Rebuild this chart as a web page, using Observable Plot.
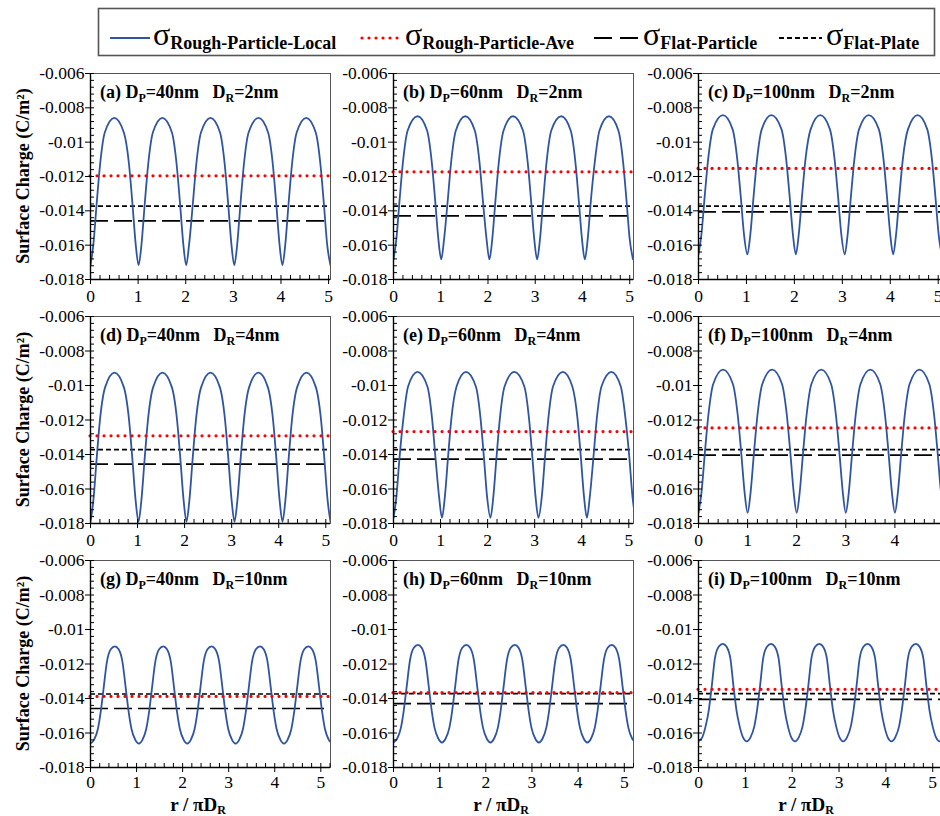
<!DOCTYPE html>
<html>
<head>
<meta charset="utf-8">
<script src="https://cdn.jsdelivr.net/npm/d3@7"></script>
<script src="https://cdn.jsdelivr.net/npm/@observablehq/plot@0.6"></script>
<style>
  html, body { margin: 0; padding: 0; background: #fff; }
  #wrap { position: relative; width: 940px; height: 816px; overflow: hidden; background: #fff; }
  .panel { position: absolute; }
  .panel svg text { font-family: "Liberation Serif", "Times New Roman", serif !important; }
</style>
</head>
<body>
<div id="wrap"></div>
<script>
// ---------------- DATA ----------------
const yDomain = [-0.018, -0.006];
const yTicks = [-0.018, -0.016, -0.014, -0.012, -0.01, -0.008, -0.006];
const yTickLabels = ["-0.018", "-0.016", "-0.014", "-0.012", "-0.01", "-0.008", "-0.006"];
const xTicks = [0, 1, 2, 3, 4, 5];
const xTickLabels = ["0", "1", "2", "3", "4", "5"];
const xMax = [5.04, 5.08, 5.11, 5.1, 5.1, 4.99, 5.21, 5.2, 5.23];

const panelTags = ["(a)", "(b)", "(c)", "(d)", "(e)", "(f)", "(g)", "(h)", "(i)"];
const dpValues = ["40", "60", "100", "40", "60", "100", "40", "60", "100"];
const drValues = ["2", "2", "2", "4", "4", "4", "10", "10", "10"];

const legendNames = ["Rough-Particle-Local", "Rough-Particle-Ave", "Flat-Particle", "Flat-Plate"];

// horizontal reference levels (C/m^2)
const aveCharge    = [-0.01196, -0.01173, -0.01153, -0.01292, -0.01267, -0.01246, -0.01388, -0.01366, -0.01347];
const flatParticle = [-0.01458, -0.01429, -0.01406, -0.01456, -0.01427, -0.01404, -0.01458, -0.0143, -0.01405];
const flatPlate    = [-0.01372, -0.01372, -0.01372, -0.01372, -0.01372, -0.01372, -0.01374, -0.01372, -0.01372];

// local surface charge curves [r/piDR, sigma]
const curveA = [
[0,-0.01717],[0.06,-0.01597],[0.13,-0.01356],[0.20,-0.01133],[0.30,-0.00944],[0.50,-0.00858],[0.70,-0.00944],[0.81,-0.01133],[0.88,-0.01356],[0.95,-0.01597],
[1.01,-0.01717],[1.07,-0.01597],[1.14,-0.01356],[1.21,-0.01133],[1.31,-0.00944],[1.51,-0.00858],[1.71,-0.00944],[1.81,-0.01133],[1.88,-0.01356],[1.95,-0.01597],
[2.01,-0.01717],[2.07,-0.01597],[2.15,-0.01356],[2.22,-0.01133],[2.32,-0.00944],[2.52,-0.00858],[2.72,-0.00944],[2.82,-0.01133],[2.89,-0.01356],[2.96,-0.01597],
[3.02,-0.01717],[3.08,-0.01597],[3.15,-0.01356],[3.22,-0.01133],[3.32,-0.00944],[3.53,-0.00858],[3.73,-0.00944],[3.83,-0.01133],[3.90,-0.01356],[3.97,-0.01597],
[4.03,-0.01717],[4.09,-0.01597],[4.16,-0.01356],[4.23,-0.01133],[4.33,-0.00944],[4.53,-0.00858],[4.73,-0.00944],[4.83,-0.01133],[4.90,-0.01356],[4.97,-0.01597],
[5.04,-0.01717]];
const curveB = [
[0,-0.01683],[0.06,-0.01566],[0.13,-0.01333],[0.20,-0.01116],[0.30,-0.00932],[0.51,-0.00849],[0.71,-0.00932],[0.81,-0.01116],[0.88,-0.01333],[0.95,-0.01566],
[1.01,-0.01683],[1.07,-0.01566],[1.15,-0.01333],[1.22,-0.01116],[1.32,-0.00932],[1.52,-0.00849],[1.72,-0.00932],[1.82,-0.01116],[1.89,-0.01333],[1.97,-0.01566],
[2.03,-0.01683],[2.09,-0.01566],[2.16,-0.01333],[2.23,-0.01116],[2.33,-0.00932],[2.53,-0.00849],[2.74,-0.00932],[2.84,-0.01116],[2.91,-0.01333],[2.98,-0.01566],
[3.04,-0.01683],[3.10,-0.01566],[3.17,-0.01333],[3.24,-0.01116],[3.34,-0.00932],[3.55,-0.00849],[3.75,-0.00932],[3.85,-0.01116],[3.92,-0.01333],[3.99,-0.01566],
[4.05,-0.01683],[4.11,-0.01566],[4.18,-0.01333],[4.26,-0.01116],[4.36,-0.00932],[4.56,-0.00849],[4.76,-0.00932],[4.86,-0.01116],[4.93,-0.01333],[5.00,-0.01566],
[5.07,-0.01683]];
const curveC = [
[0,-0.01654],[0.06,-0.0154],[0.13,-0.01313],[0.20,-0.01103],[0.30,-0.00924],[0.51,-0.00843],[0.71,-0.00924],[0.81,-0.01103],[0.88,-0.01313],[0.95,-0.0154],
[1.02,-0.01654],[1.08,-0.0154],[1.15,-0.01313],[1.22,-0.01103],[1.32,-0.00924],[1.52,-0.00843],[1.73,-0.00924],[1.83,-0.01103],[1.90,-0.01313],[1.97,-0.0154],
[2.03,-0.01654],[2.09,-0.0154],[2.16,-0.01313],[2.23,-0.01103],[2.34,-0.00924],[2.54,-0.00843],[2.74,-0.00924],[2.84,-0.01103],[2.91,-0.01313],[2.98,-0.0154],
[3.05,-0.01654],[3.11,-0.0154],[3.18,-0.01313],[3.25,-0.01103],[3.35,-0.00924],[3.55,-0.00843],[3.76,-0.00924],[3.86,-0.01103],[3.93,-0.01313],[4.00,-0.0154],
[4.06,-0.01654],[4.12,-0.0154],[4.19,-0.01313],[4.26,-0.01103],[4.37,-0.00924],[4.57,-0.00843],[4.77,-0.00924],[4.87,-0.01103],[4.94,-0.01313],[5.01,-0.0154],
[5.08,-0.01654],[5.14,-0.0154]];
const curveD = [
[0,-0.0179],[0.06,-0.01669],[0.13,-0.01427],[0.20,-0.01202],[0.31,-0.01011],[0.51,-0.00925],[0.71,-0.01011],[0.82,-0.01202],[0.89,-0.01427],[0.96,-0.01669],
[1.02,-0.0179],[1.08,-0.01669],[1.15,-0.01427],[1.22,-0.01202],[1.33,-0.01011],[1.53,-0.00925],[1.73,-0.01011],[1.84,-0.01202],[1.91,-0.01427],[1.98,-0.01669],
[2.04,-0.0179],[2.10,-0.01669],[2.17,-0.01427],[2.24,-0.01202],[2.35,-0.01011],[2.55,-0.00925],[2.75,-0.01011],[2.86,-0.01202],[2.93,-0.01427],[3.00,-0.01669],
[3.06,-0.0179],[3.12,-0.01669],[3.19,-0.01427],[3.26,-0.01202],[3.37,-0.01011],[3.57,-0.00925],[3.77,-0.01011],[3.88,-0.01202],[3.95,-0.01427],[4.02,-0.01669],
[4.08,-0.0179],[4.14,-0.01669],[4.21,-0.01427],[4.28,-0.01202],[4.39,-0.01011],[4.59,-0.00925],[4.79,-0.01011],[4.90,-0.01202],[4.97,-0.01427],[5.04,-0.01669],
[5.10,-0.0179]];
const curveE = [
[0,-0.01767],[0.06,-0.01649],[0.13,-0.01412],[0.21,-0.01192],[0.31,-0.01006],[0.51,-0.00921],[0.72,-0.01006],[0.82,-0.01192],[0.89,-0.01412],[0.97,-0.01649],
[1.03,-0.01767],[1.09,-0.01649],[1.16,-0.01412],[1.23,-0.01192],[1.34,-0.01006],[1.54,-0.00921],[1.75,-0.01006],[1.85,-0.01192],[1.92,-0.01412],[1.99,-0.01649],
[2.06,-0.01767],[2.12,-0.01649],[2.19,-0.01412],[2.26,-0.01192],[2.36,-0.01006],[2.57,-0.00921],[2.78,-0.01006],[2.88,-0.01192],[2.95,-0.01412],[3.02,-0.01649],
[3.08,-0.01767],[3.15,-0.01649],[3.22,-0.01412],[3.29,-0.01192],[3.39,-0.01006],[3.60,-0.00921],[3.80,-0.01006],[3.91,-0.01192],[3.98,-0.01412],[4.05,-0.01649],
[4.11,-0.01767],[4.17,-0.01649],[4.25,-0.01412],[4.32,-0.01192],[4.42,-0.01006],[4.63,-0.00921],[4.83,-0.01006],[4.93,-0.01192],[5.01,-0.01412],[5.08,-0.01649],
[5.14,-0.01767]];
const curveF = [
[0,-0.01738],[0.06,-0.01622],[0.13,-0.01389],[0.20,-0.01174],[0.30,-0.00991],[0.50,-0.00908],[0.70,-0.00991],[0.80,-0.01174],[0.87,-0.01389],[0.94,-0.01622],
[1.00,-0.01738],[1.06,-0.01622],[1.13,-0.01389],[1.20,-0.01174],[1.30,-0.00991],[1.50,-0.00908],[1.70,-0.00991],[1.80,-0.01174],[1.87,-0.01389],[1.94,-0.01622],
[2.00,-0.01738],[2.06,-0.01622],[2.13,-0.01389],[2.20,-0.01174],[2.30,-0.00991],[2.50,-0.00908],[2.70,-0.00991],[2.80,-0.01174],[2.87,-0.01389],[2.94,-0.01622],
[3.00,-0.01738],[3.06,-0.01622],[3.13,-0.01389],[3.20,-0.01174],[3.30,-0.00991],[3.50,-0.00908],[3.70,-0.00991],[3.80,-0.01174],[3.87,-0.01389],[3.94,-0.01622],
[4.00,-0.01738],[4.06,-0.01622],[4.13,-0.01389],[4.20,-0.01174],[4.30,-0.00991],[4.50,-0.00908],[4.70,-0.00991],[4.80,-0.01174],[4.87,-0.01389],[4.94,-0.01622],
[5.00,-0.01738]];
const curveG = [
[0,-0.01661],[0.08,-0.01638],[0.16,-0.01577],[0.22,-0.01481],[0.28,-0.01351],[0.36,-0.01182],[0.44,-0.01115],[0.53,-0.01098],[0.61,-0.01115],[0.69,-0.01182],[0.77,-0.01351],[0.83,-0.01481],[0.89,-0.01577],[0.97,-0.01638],
[1.05,-0.01661],[1.13,-0.01638],[1.21,-0.01577],[1.27,-0.01481],[1.33,-0.01351],[1.41,-0.01182],[1.49,-0.01115],[1.58,-0.01098],[1.66,-0.01115],[1.74,-0.01182],[1.82,-0.01351],[1.88,-0.01481],[1.94,-0.01577],[2.02,-0.01638],
[2.10,-0.01661],[2.18,-0.01638],[2.26,-0.01577],[2.32,-0.01481],[2.38,-0.01351],[2.46,-0.01182],[2.54,-0.01115],[2.63,-0.01098],[2.71,-0.01115],[2.79,-0.01182],[2.87,-0.01351],[2.93,-0.01481],[2.99,-0.01577],[3.07,-0.01638],
[3.15,-0.01661],[3.23,-0.01638],[3.31,-0.01577],[3.37,-0.01481],[3.43,-0.01351],[3.51,-0.01182],[3.59,-0.01115],[3.68,-0.01098],[3.76,-0.01115],[3.84,-0.01182],[3.92,-0.01351],[3.98,-0.01481],[4.04,-0.01577],[4.12,-0.01638],
[4.20,-0.01661],[4.28,-0.01638],[4.36,-0.01577],[4.42,-0.01481],[4.48,-0.01351],[4.56,-0.01182],[4.64,-0.01115],[4.73,-0.01098],[4.81,-0.01115],[4.89,-0.01182],[4.97,-0.01351],[5.03,-0.01481],[5.09,-0.01577],[5.17,-0.01638],
[5.25,-0.01661]];
const curveH = [
[0,-0.01655],[0.08,-0.01632],[0.16,-0.0157],[0.22,-0.01474],[0.28,-0.01344],[0.36,-0.01174],[0.44,-0.01106],[0.53,-0.01089],[0.61,-0.01106],[0.69,-0.01174],[0.77,-0.01344],[0.83,-0.01474],[0.89,-0.0157],[0.97,-0.01632],
[1.05,-0.01655],[1.13,-0.01632],[1.21,-0.0157],[1.27,-0.01474],[1.33,-0.01344],[1.41,-0.01174],[1.49,-0.01106],[1.58,-0.01089],[1.66,-0.01106],[1.74,-0.01174],[1.82,-0.01344],[1.88,-0.01474],[1.94,-0.0157],[2.02,-0.01632],
[2.10,-0.01655],[2.18,-0.01632],[2.26,-0.0157],[2.32,-0.01474],[2.38,-0.01344],[2.46,-0.01174],[2.54,-0.01106],[2.63,-0.01089],[2.71,-0.01106],[2.79,-0.01174],[2.87,-0.01344],[2.93,-0.01474],[2.99,-0.0157],[3.07,-0.01632],
[3.15,-0.01655],[3.23,-0.01632],[3.31,-0.0157],[3.37,-0.01474],[3.43,-0.01344],[3.51,-0.01174],[3.59,-0.01106],[3.68,-0.01089],[3.76,-0.01106],[3.84,-0.01174],[3.92,-0.01344],[3.98,-0.01474],[4.04,-0.0157],[4.12,-0.01632],
[4.20,-0.01655],[4.28,-0.01632],[4.36,-0.0157],[4.42,-0.01474],[4.48,-0.01344],[4.56,-0.01174],[4.64,-0.01106],[4.73,-0.01089],[4.81,-0.01106],[4.89,-0.01174],[4.97,-0.01344],[5.03,-0.01474],[5.09,-0.0157],[5.17,-0.01632],
[5.25,-0.01655]];
const curveI = [
[0,-0.01648],[0.08,-0.01625],[0.15,-0.01563],[0.22,-0.01467],[0.28,-0.01337],[0.35,-0.01168],[0.43,-0.011],[0.52,-0.01083],[0.60,-0.011],[0.68,-0.01168],[0.75,-0.01337],[0.81,-0.01467],[0.88,-0.01563],[0.95,-0.01625],
[1.03,-0.01648],[1.11,-0.01625],[1.19,-0.01563],[1.25,-0.01467],[1.31,-0.01337],[1.38,-0.01168],[1.46,-0.011],[1.55,-0.01083],[1.63,-0.011],[1.71,-0.01168],[1.78,-0.01337],[1.84,-0.01467],[1.91,-0.01563],[1.98,-0.01625],
[2.06,-0.01648],[2.14,-0.01625],[2.22,-0.01563],[2.28,-0.01467],[2.34,-0.01337],[2.41,-0.01168],[2.49,-0.011],[2.58,-0.01083],[2.66,-0.011],[2.74,-0.01168],[2.81,-0.01337],[2.87,-0.01467],[2.94,-0.01563],[3.01,-0.01625],
[3.09,-0.01648],[3.17,-0.01625],[3.25,-0.01563],[3.31,-0.01467],[3.37,-0.01337],[3.44,-0.01168],[3.52,-0.011],[3.61,-0.01083],[3.69,-0.011],[3.77,-0.01168],[3.84,-0.01337],[3.90,-0.01467],[3.97,-0.01563],[4.04,-0.01625],
[4.12,-0.01648],[4.20,-0.01625],[4.28,-0.01563],[4.34,-0.01467],[4.40,-0.01337],[4.47,-0.01168],[4.55,-0.011],[4.64,-0.01083],[4.72,-0.011],[4.80,-0.01168],[4.87,-0.01337],[4.93,-0.01467],[5.00,-0.01563],[5.07,-0.01625],
[5.15,-0.01648],[5.23,-0.01625]];
const curves = [curveA, curveB, curveC, curveD, curveE, curveF, curveG, curveH, curveI];

// ---------------- LAYOUT / STYLE ----------------
const FONT = '"Liberation Serif", "Times New Roman", serif';
const BLUE = "#2f55a2";
const RED = "#ff0000";
const colLeft = [0, 333, 638], colML = [90, 60, 60], colW = [240, 240, 245];
const rowTop = [73, 316, 560], rowH = [206, 207, 207];
const yMinor = d3.range(0, 31).map(k => yDomain[0] + k * 0.0004);
const xMinorAll = d3.range(0, 27).map(k => k * 0.2);

const wrap = document.getElementById("wrap");

for (let i = 0; i < 9; i++) {
  const r = Math.floor(i / 3), c = i % 3;
  const mt = 6, mr = 3;
  const mb = r === 2 ? 816 - (rowTop[r] + rowH[r]) : 36;
  const width = colML[c] + colW[c] + mr;
  const height = mt + rowH[r] + mb;
  const xmax = xMax[i];
  const xt = xTicks.filter(v => v <= xmax + 1e-9);
  const xMinor = xMinorAll.filter(v => v <= xmax + 1e-9);

  const chart = Plot.plot({
    width, height,
    marginLeft: colML[c], marginRight: mr, marginTop: mt, marginBottom: mb,
    x: {domain: [0, xmax]},
    y: {domain: yDomain},
    style: `background: transparent; max-width: none; overflow: visible; font-family: ${FONT}; font-size: 17px; color: #000;`,
    marks: [
      Plot.frame({stroke: "#555", strokeWidth: 1}),
      Plot.ruleY([flatPlate[i]], {stroke: "#000", strokeWidth: 1.7, strokeDasharray: "5 3"}),
      Plot.ruleY([flatParticle[i]], {stroke: "#000", strokeWidth: 1.7, strokeDasharray: "18 6"}),
      Plot.line(curves[i], {x: d => d[0], y: d => d[1], stroke: BLUE, strokeWidth: 1.8, curve: "monotone-x", clip: true}),
      Plot.ruleY([aveCharge[i]], {stroke: RED, strokeWidth: 3.2, strokeDasharray: "0 7", strokeLinecap: "round"}),
      Plot.axisY(yMinor, {tickSize: -4, tickFormat: () => "", label: null, stroke: "#000"}),
      Plot.axisX(xMinor, {tickSize: -4, tickFormat: () => "", label: null, stroke: "#000"}),
      Plot.axisY(yTicks, {tickSize: 5, tickPadding: 1, tickFormat: d => yTickLabels[yTicks.indexOf(d)], label: null, fontSize: 17.5, stroke: "#000"}),
      Plot.axisX(xt, {tickSize: 5, tickPadding: r === 2 ? 3 : 5, tickFormat: d => xTickLabels[xTicks.indexOf(d)], label: null, fontSize: 17.5, stroke: "#000"}),
      Plot.ruleX([0], {stroke: "#000", strokeWidth: 1.4}),
      Plot.ruleY([yDomain[0]], {stroke: "#000", strokeWidth: 1.4})
    ]
  });

  const svg = d3.select(chart);
  svg.selectAll("text").style("font-family", FONT);
  // panel annotation
  const t = svg.append("text")
    .attr("x", colML[c] + 10).attr("y", mt + 25)
    .attr("text-anchor", "start")
    .attr("font-weight", "bold").attr("font-size", 18)
    .attr("fill", "#000").style("font-family", FONT).style("white-space", "pre");
  t.append("tspan").text(panelTags[i] + " D");
  t.append("tspan").attr("font-size", 12).attr("dy", 4).text("P");
  t.append("tspan").attr("dy", -4).text("=" + dpValues[i] + "nm   D");
  t.append("tspan").attr("font-size", 12).attr("dy", 4).text("R");
  t.append("tspan").attr("dy", -4).text("=" + drValues[i] + "nm");

  // y-axis title (first column)
  if (c === 0) {
    svg.append("text")
      .attr("transform", `translate(29,${mt + rowH[r] / 2}) rotate(-90)`)
      .attr("text-anchor", "middle")
      .attr("font-weight", "bold").attr("font-size", 18)
      .attr("fill", "#000").style("font-family", FONT)
      .text("Surface Charge (C/m²)");
  }
  // x-axis title (last row)
  if (r === 2) {
    const tx = svg.append("text")
      .attr("x", colML[c] + 120 - 12).attr("y", mt + rowH[r] + 43.5)
      .attr("text-anchor", "middle")
      .attr("font-weight", "bold").attr("font-size", 19)
      .attr("fill", "#000").style("font-family", FONT).style("white-space", "pre");
    tx.append("tspan").text("r / πD");
    tx.append("tspan").attr("font-size", 12).attr("dy", 3).text("R");
  }

  const div = document.createElement("div");
  div.className = "panel";
  div.style.left = colLeft[c] + "px";
  div.style.top = (rowTop[r] - mt) + "px";
  div.style.width = width + "px";
  div.style.height = height + "px";
  div.appendChild(chart);
  wrap.appendChild(div);
}

// ---------------- LEGEND ----------------
const legendStyles = [
  {stroke: BLUE, w: 2, dash: null, cap: "butt"},
  {stroke: RED, w: 3.2, dash: "0 7", cap: "round"},
  {stroke: "#000", w: 2, dash: "18 8", cap: "butt"},
  {stroke: "#000", w: 1.8, dash: "5 3", cap: "butt"}
];
const legX = [110, 362, 594, 779], legLen = [40, 38, 46, 43], sigX = [153, 405, 643, 826];
const lsvg = d3.create("svg").attr("width", 940).attr("height", 62)
  .style("position", "absolute").style("left", "0px").style("top", "0px");
lsvg.append("rect").attr("x", 98.5).attr("y", 8.5).attr("width", 836).attr("height", 47)
  .attr("fill", "#fff").attr("stroke", "#555").attr("stroke-width", 1.6);
legendNames.forEach((name, k) => {
  const s = legendStyles[k];
  lsvg.append("line").attr("x1", legX[k]).attr("x2", legX[k] + legLen[k]).attr("y1", 38).attr("y2", 38)
    .attr("stroke", s.stroke).attr("stroke-width", s.w).attr("stroke-dasharray", s.dash)
    .attr("stroke-linecap", s.cap);
  const tt = lsvg.append("text").attr("x", sigX[k]).attr("y", 45)
    .attr("fill", "#000").style("font-family", FONT);
  tt.append("tspan").attr("font-size", 32).text("σ");
  tt.append("tspan").attr("font-size", 18).attr("font-weight", "bold").attr("dy", 4).text(name);
});
wrap.appendChild(lsvg.node());
</script>
</body>
</html>
